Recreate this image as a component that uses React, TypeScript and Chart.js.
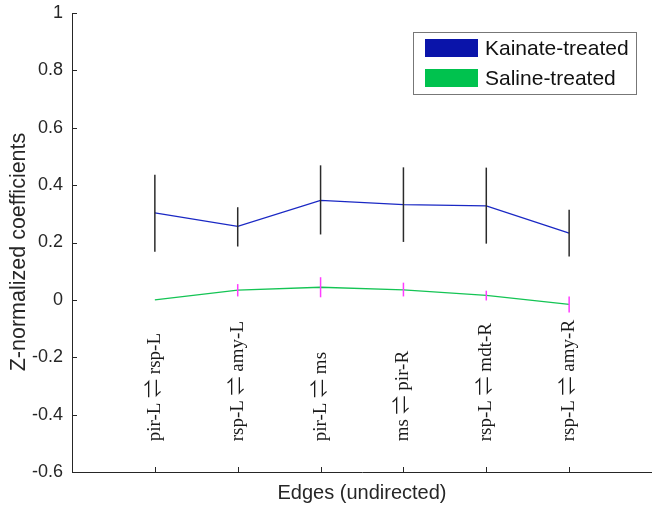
import React, { useEffect, useRef } from "react";
import { Chart, registerables } from "chart.js";

Chart.register(...registerables);

const categories = [
  "pir-L \u21CC rsp-L",
  "rsp-L \u21CC amy-L",
  "pir-L \u21CC ms",
  "ms \u21CC pir-R",
  "rsp-L \u21CC mdt-R",
  "rsp-L \u21CC amy-R",
];
const kainateMean = [0.303, 0.256, 0.347, 0.332, 0.328, 0.233];
const kainateLow = [0.168, 0.186, 0.228, 0.202, 0.196, 0.151];
const kainateHigh = [0.436, 0.323, 0.469, 0.462, 0.461, 0.314];
const salineMean = [0.0, 0.034, 0.044, 0.035, 0.016, -0.016];
const salineLow = [0.0, 0.012, 0.009, 0.012, -0.002, -0.044];
const salineHigh = [0.0, 0.055, 0.079, 0.06, 0.032, 0.012];
const seriesNames = ["Kainate-treated", "Saline-treated"];
const yTickValues = [-0.6, -0.4, -0.2, 0, 0.2, 0.4, 0.6, 0.8, 1];
const xTitle = "Edges (undirected)";
const yTitle = "Z-normalized coefficients";

const AXIS = "#262626";
const SANS = "'Liberation Sans', Arial, Helvetica, sans-serif";
const SERIF = "'Liberation Serif', 'Noto Sans CJK JP', serif";

const overlay = {
  id: "overlay",
  afterDatasetsDraw(chart: any) {
    const { ctx } = chart;
    const xs = chart.scales.x;
    const ys = chart.scales.y;
    ctx.save();
    const bars = (lo: number[], hi: number[], color: string) => {
      ctx.strokeStyle = color;
      ctx.lineWidth = 1.5;
      for (let i = 0; i < lo.length; i++) {
        if (hi[i] === lo[i]) continue;
        const x = xs.getPixelForValue(i + 1);
        ctx.beginPath();
        ctx.moveTo(x, ys.getPixelForValue(lo[i]));
        ctx.lineTo(x, ys.getPixelForValue(hi[i]));
        ctx.stroke();
      }
    };
    bars(kainateLow, kainateHigh, "#2b2b2b");
    bars(salineLow, salineHigh, "#ff3cff");
    ctx.restore();
  },
  afterDraw(chart: any) {
    const { ctx, chartArea } = chart;
    const xs = chart.scales.x;
    const ys = chart.scales.y;
    ctx.save();
    // inward ticks
    ctx.strokeStyle = AXIS;
    ctx.lineWidth = 1;
    yTickValues.forEach((v) => {
      const y = Math.round(ys.getPixelForValue(v)) + 0.5;
      ctx.beginPath();
      ctx.moveTo(chartArea.left, y);
      ctx.lineTo(chartArea.left + 5, y);
      ctx.stroke();
    });
    categories.forEach((_, i) => {
      const x = Math.round(xs.getPixelForValue(i + 1)) + 0.5;
      ctx.beginPath();
      ctx.moveTo(x, chartArea.bottom);
      ctx.lineTo(x, chartArea.bottom - 5);
      ctx.stroke();
    });
    // category labels
    ctx.fillStyle = "#1a1a1a";
    ctx.font = `19px ${SERIF}`;
    ctx.textAlign = "left";
    ctx.textBaseline = "middle";
    categories.forEach((c, i) => {
      const x = xs.getPixelForValue(i + 1);
      const y = ys.getPixelForValue(-0.493);
      ctx.save();
      ctx.translate(x, y);
      ctx.rotate(-Math.PI / 2);
      ctx.fillText(c, 0, 0);
      ctx.restore();
    });
    // axis titles
    ctx.fillStyle = AXIS;
    ctx.font = `20px ${SANS}`;
    ctx.textAlign = "center";
    ctx.textBaseline = "middle";
    ctx.fillText(xTitle, 362, 493);
    ctx.save();
    ctx.font = `21.5px ${SANS}`;
    ctx.textBaseline = "alphabetic";
    ctx.translate(25, 252);
    ctx.rotate(-Math.PI / 2);
    ctx.fillText(yTitle, 0, 0);
    ctx.restore();
    // legend
    const lx = 413, ly = 32, lw = 223, lh = 62;
    ctx.fillStyle = "#fff";
    ctx.fillRect(lx, ly, lw, lh);
    ctx.strokeStyle = "#777";
    ctx.lineWidth = 1;
    ctx.strokeRect(lx + 0.5, ly + 0.5, lw, lh);
    const sw = ["#0a14aa", "#00c24e"];
    const rows = [48, 78];
    ctx.font = `21px ${SANS}`;
    ctx.textAlign = "left";
    ctx.textBaseline = "middle";
    rows.forEach((ry, i) => {
      ctx.fillStyle = sw[i];
      ctx.fillRect(425, ry - 9, 53, 18);
      ctx.fillStyle = "#111";
      ctx.fillText(seriesNames[i], 485, ry + 1);
    });
    ctx.restore();
  },
};

export default function App() {
  const ref = useRef<HTMLCanvasElement>(null);
  useEffect(() => {
    if (!ref.current) return;
    const chart = new Chart(ref.current, {
      type: "line",
      data: {
        datasets: [
          {
            label: seriesNames[0],
            data: kainateMean.map((v, i) => ({ x: i + 1, y: v })),
            borderColor: "#1a28c4",
            borderWidth: 1.3,
            pointRadius: 0,
            tension: 0,
          },
          {
            label: seriesNames[1],
            data: salineMean.map((v, i) => ({ x: i + 1, y: v })),
            borderColor: "#14c454",
            borderWidth: 1.3,
            pointRadius: 0,
            tension: 0,
          },
        ],
      },
      options: {
        animation: false,
        responsive: true,
        maintainAspectRatio: false,
        layout: { padding: { top: 13, right: 0, left: 0, bottom: 0 } },
        plugins: { legend: { display: false }, tooltip: { enabled: false } },
        scales: {
          x: {
            type: "linear",
            min: 0,
            max: 7,
            grid: { display: false, drawTicks: false },
            border: { display: true, color: AXIS, width: 1 },
            ticks: { display: false },
            afterFit: (s: any) => {
              s.height = 36;
              s.paddingLeft = 0;
              s.paddingRight = 0;
            },
          },
          y: {
            type: "linear",
            min: -0.6,
            max: 1,
            grid: { display: false, drawTicks: false },
            border: { display: true, color: AXIS, width: 1 },
            ticks: {
              stepSize: 0.2,
              padding: 9,
              color: AXIS,
              font: { family: SANS, size: 18 },
              callback: (v: any) => String(Number(Number(v).toFixed(1))),
            },
            afterFit: (s: any) => {
              s.width = 72;
              s.paddingTop = 0;
              s.paddingBottom = 0;
            },
          },
        },
      },
      plugins: [overlay],
    });
    return () => chart.destroy();
  }, []);
  return (
    <div style={{ position: "absolute", left: 0, top: 0, width: 652, height: 508, background: "#fff" }}>
      <canvas ref={ref} />
    </div>
  );
}
